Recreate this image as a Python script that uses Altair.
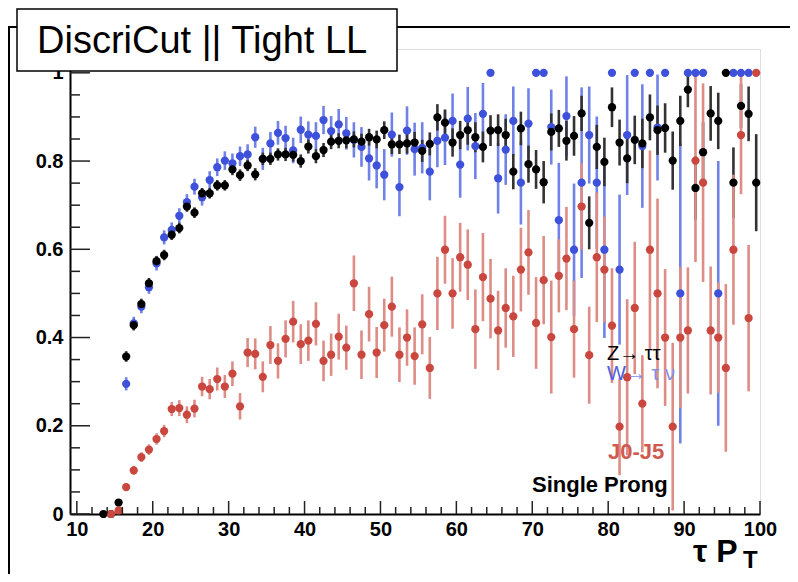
import altair as alt
import pandas as pd

# ---------------- data ----------------
# bin centres of tau pT (GeV), bins 13-14 ... 99-100
pt_bins = [13.5 + i for i in range(87)]

z_tautau = [0.0, 0.0, 0.026, 0.357, 0.428, 0.476, 0.523, 0.573, 0.587, 0.633,
            0.648, 0.697, 0.683, 0.727, 0.727, 0.745, 0.745, 0.781, 0.768, 0.790,
            0.770, 0.805, 0.805, 0.815, 0.815, 0.814, 0.800, 0.833, 0.811, 0.825,
            0.844, 0.846, 0.847, 0.849, 0.844, 0.854, 0.849, 0.870, 0.838, 0.838,
            0.840, 0.842, 0.823, 0.839, 0.899, 0.887, 0.842, 0.859, 0.870, 0.854,
            0.832, 0.869, 0.870, 0.859, 0.776, 0.874, 0.793, 0.781, 0.752, 0.866,
            0.874, 0.846, 0.857, 0.908, 0.660, 0.832, 0.798, 0.922, 0.842, 0.806,
            0.848, 0.840, 0.899, 0.870, 0.875, 0.801, 0.891, 0.962, 0.739, 0.820,
            0.908, 0.891, 1.0, 0.751, 0.925, 0.907, 0.751]
z_tautau_err = [0.004, 0.004, 0.008, 0.012, 0.012, 0.012, 0.012, 0.012, 0.012, 0.012,
                0.012, 0.012, 0.012, 0.012, 0.012, 0.012, 0.012, 0.013, 0.013, 0.013,
                0.014, 0.014, 0.014, 0.014, 0.015, 0.015, 0.015, 0.016, 0.016, 0.016,
                0.017, 0.017, 0.018, 0.018, 0.018, 0.019, 0.020, 0.020, 0.022, 0.022,
                0.023, 0.024, 0.025, 0.026, 0.030, 0.030, 0.032, 0.032, 0.033, 0.034,
                0.035, 0.035, 0.036, 0.037, 0.040, 0.038, 0.042, 0.044, 0.048, 0.042,
                0.042, 0.045, 0.045, 0.040, 0.060, 0.050, 0.055, 0.045, 0.052, 0.056,
                0.055, 0.056, 0.052, 0.056, 0.056, 0.066, 0.057, 0.040, 0.072, 0.068,
                0.062, 0.064, 0.0, 0.080, 0.050, 0.062, 0.110]

w_taunu = [None, None, None, 0.295, 0.432, 0.470, 0.514, 0.568, 0.627, 0.644,
           0.676, 0.707, 0.742, 0.718, 0.757, 0.786, 0.801, 0.795, 0.811, 0.815,
           0.854, 0.805, 0.840, 0.864, 0.852, 0.824, 0.871, 0.860, 0.857, 0.893,
           0.868, 0.883, 0.863, 0.848, 0.832, 0.806, 0.790, 0.769, 0.860, 0.741,
           0.869, 0.827, 0.830, 0.776, 0.846, 0.853, 0.891, 0.792, 0.896, 0.834,
           0.907, 1.0, 0.761, 0.826, 0.891, 0.751, 0.885, 1.0, 1.0, 0.877,
           0.666, 0.902, 0.599, 0.751, 0.859, 0.751, 0.599, 1.0, 0.554, 0.859,
           1.0, 0.834, 1.0, 0.876, 1.0, None, 0.500, 1.0, 1.0, 1.0,
           None, 0.500, None, 1.0, 1.0, 1.0, None]
w_taunu_err = [0.0, 0.0, 0.0, 0.015, 0.015, 0.015, 0.015, 0.016, 0.016, 0.017,
               0.017, 0.018, 0.018, 0.019, 0.020, 0.020, 0.021, 0.022, 0.022, 0.023,
               0.024, 0.025, 0.026, 0.027, 0.028, 0.029, 0.030, 0.030, 0.031, 0.032,
               0.034, 0.035, 0.037, 0.040, 0.045, 0.050, 0.052, 0.058, 0.050, 0.066,
               0.055, 0.060, 0.058, 0.065, 0.060, 0.062, 0.062, 0.075, 0.072, 0.075,
               0.070, 0.0, 0.080, 0.080, 0.078, 0.095, 0.080, 0.0, 0.0, 0.085,
               0.130, 0.090, 0.150, 0.216, 0.110, 0.150, 0.200, 0.0, 0.170, 0.136,
               0.0, 0.140, 0.0, 0.120, 0.0, 0.0, 0.340, 0.0, 0.0, 0.0,
               0.0, 0.300, 0.0, 0.0, 0.0, 0.0, 0.0]

j0_j5 = [None, 0.0, 0.008, 0.061, 0.099, 0.129, 0.146, 0.170, 0.188, 0.238,
         0.240, 0.225, 0.239, 0.289, 0.283, 0.306, 0.289, 0.318, 0.244, 0.366,
         0.363, 0.311, 0.383, 0.347, 0.397, 0.436, 0.385, 0.393, 0.431, 0.347,
         0.361, 0.402, 0.377, 0.523, 0.361, 0.453, 0.366, 0.428, 0.470, 0.361,
         0.400, 0.358, 0.430, 0.331, 0.500, 0.599, 0.500, 0.582, 0.565, 0.419,
         0.537, 0.488, 0.416, 0.467, 0.448, 0.554, 0.593, 0.433, 0.530, 0.401,
         0.540, 0.579, 0.419, 0.697, 0.360, 0.582, 0.554, 0.427, 0.198, 0.310,
         0.467, 0.250, 0.599, 0.500, 0.400, 0.198, 0.400, 0.416, 0.801, 0.751,
         0.416, 0.400, 0.331, 0.599, 0.859, 0.444, 1.0]
j0_j5_err = [0.0, 0.003, 0.005, 0.008, 0.010, 0.011, 0.012, 0.013, 0.014, 0.016,
             0.018, 0.019, 0.020, 0.022, 0.023, 0.026, 0.026, 0.028, 0.030, 0.033,
             0.035, 0.035, 0.043, 0.040, 0.042, 0.047, 0.045, 0.046, 0.049, 0.046,
             0.048, 0.052, 0.050, 0.063, 0.055, 0.062, 0.058, 0.060, 0.068, 0.062,
             0.064, 0.065, 0.068, 0.070, 0.083, 0.077, 0.080, 0.078, 0.080, 0.090,
             0.100, 0.090, 0.090, 0.090, 0.092, 0.095, 0.096, 0.104, 0.100, 0.128,
             0.083, 0.117, 0.110, 0.098, 0.110, 0.147, 0.120, 0.130, 0.110, 0.177,
             0.150, 0.110, 0.225, 0.215, 0.155, 0.190, 0.160, 0.143, 0.230, 0.225,
             0.145, 0.125, 0.190, 0.170, 0.134, 0.166, 0.0]

x_major = [10, 20, 30, 40, 50, 60, 70, 80, 90, 100]
x_minor = [12, 14, 16, 18, 22, 24, 26, 28, 32, 34, 36, 38, 42, 44, 46, 48,
           52, 54, 56, 58, 62, 64, 66, 68, 72, 74, 76, 78, 82, 84, 86, 88,
           92, 94, 96, 98]
y_major = [0, 0.2, 0.4, 0.6, 0.8, 1.0]
y_minor = [0.05, 0.1, 0.15, 0.25, 0.3, 0.35, 0.45, 0.5, 0.55, 0.65, 0.7, 0.75,
           0.85, 0.9, 0.95]

series_names = ["W", "Z", "J"]

# ---------------- table ----------------
rows = []
for name, vals, errs in [("W", w_taunu, w_taunu_err),
                         ("Z", z_tautau, z_tautau_err),
                         ("J", j0_j5, j0_j5_err)]:
    for x, v, e in zip(pt_bins, vals, errs):
        if v is None:
            continue
        rows.append({"pt": x, "eff": v, "lo": max(0.0, v - e),
                     "hi": min(1.0, v + e), "sample": name})
df = pd.DataFrame(rows)

W, H = 690, 465
FONT = "Liberation Sans"

xscale = alt.Scale(domain=[9.1, 100], nice=False, zero=False)
yscale = alt.Scale(domain=[0, 1.054], nice=False, zero=False)

x_axis = alt.Axis(values=x_major, format="d", title=None, ticks=False, grid=False,
                  domainColor="black", domainWidth=2, labelFont=FONT,
                  labelFontWeight="bold", labelFontSize=20, labelColor="black",
                  labelPadding=5, labelOverlap=False, labelFlush=False, labelBound=False)
y_axis = alt.Axis(values=y_major, format="~g", title=None, ticks=False, grid=False,
                  domainColor="black", domainWidth=2, labelFont=FONT,
                  labelFontWeight="bold", labelFontSize=20, labelColor="black",
                  labelPadding=7, labelOverlap=False, labelFlush=False, labelBound=False)

bar_scale = alt.Scale(domain=series_names, range=["#7081e8", "#333333", "#dd8c86"])
pt_scale = alt.Scale(domain=series_names, range=["#3e51da", "#000000", "#c9473e"])

base = alt.Chart(df)
bars = base.mark_rule(strokeWidth=2.6).encode(
    x=alt.X("pt:Q", scale=xscale, axis=x_axis),
    y=alt.Y("lo:Q", scale=yscale, axis=y_axis),
    y2="hi:Q",
    stroke=alt.Stroke("sample:N", scale=bar_scale, legend=None),
)
points = base.mark_circle(size=68, opacity=1).encode(
    x=alt.X("pt:Q", scale=xscale),
    y=alt.Y("eff:Q", scale=yscale),
    fill=alt.Fill("sample:N", scale=pt_scale, legend=None),
)

# inward ROOT-style ticks
ymaj = alt.Chart(pd.DataFrame({"v": y_major})).mark_rule(color="#222", strokeWidth=1.5).encode(
    y=alt.Y("v:Q", scale=yscale), x=alt.value(0), x2=alt.value(20))
ymin = alt.Chart(pd.DataFrame({"v": y_minor})).mark_rule(color="#222", strokeWidth=1.5).encode(
    y=alt.Y("v:Q", scale=yscale), x=alt.value(0), x2=alt.value(10))
xmaj = alt.Chart(pd.DataFrame({"v": x_major})).mark_rule(color="#222", strokeWidth=1.5).encode(
    x=alt.X("v:Q", scale=xscale), y=alt.value(H), y2=alt.value(H - 13))
xmin = alt.Chart(pd.DataFrame({"v": x_minor})).mark_rule(color="#222", strokeWidth=1.5).encode(
    x=alt.X("v:Q", scale=xscale), y=alt.value(H), y2=alt.value(H - 7))

one = pd.DataFrame({"k": [0]})


def label(text, x, y, size, color="black", weight="normal", align="left",
          baseline="middle", opacity=1.0):
    return alt.Chart(one).mark_text(
        text=text, font=FONT, fontSize=size, fontWeight=weight, color=color,
        align=align, baseline=baseline, opacity=opacity,
    ).encode(x=alt.value(x), y=alt.value(y))


# outer canvas frame lines
outer_top = alt.Chart(one).mark_rule(color="black", strokeWidth=2).encode(
    x=alt.value(-62), x2=alt.value(722), y=alt.value(-22))
outer_left = alt.Chart(one).mark_rule(color="black", strokeWidth=2).encode(
    x=alt.value(-61), y=alt.value(-22), y2=alt.value(530))

title_box = alt.Chart(one).mark_rect(fill="white", stroke="black", strokeWidth=1.5).encode(
    x=alt.value(-53), x2=alt.value(327), y=alt.value(-40), y2=alt.value(22))
title_txt = label("DiscriCut || Tight LL", -33, 4, 38, baseline="alphabetic")

leg_z = label("Z\u2192 \u03c4\u03c4", 537, 305, 20)
leg_w1 = label("W", 537, 325, 20, color="#4a5de0")
leg_w2 = label("\u2192 \u03c4 \u03bd", 556, 325, 20, color="#8190ec")
leg_j = label("J0-J5", 538, 403, 22, color="#d05a50", weight="bold")
leg_sp = label("Single Prong", 462, 436, 22, weight="bold")

xt1 = label("\u03c4 P", 623, 513, 32, weight="bold", baseline="alphabetic")
xt2 = label("T", 673, 519, 24, weight="bold", baseline="alphabetic")

chart = alt.layer(
    bars, points, ymaj, ymin, xmaj, xmin,
    outer_top, outer_left, title_box, title_txt,
    leg_z, leg_w1, leg_w2, leg_j, leg_sp, xt1, xt2,
).properties(
    width=W, height=H,
    autosize=alt.AutoSizeParams(type="none"),
    padding={"left": 62, "top": 41, "right": 30, "bottom": 60},
).configure_view(
    stroke="#555555", strokeWidth=1.5
).configure(background="white")

chart.save("out.html", embed_options={"renderer": "svg", "actions": False})
